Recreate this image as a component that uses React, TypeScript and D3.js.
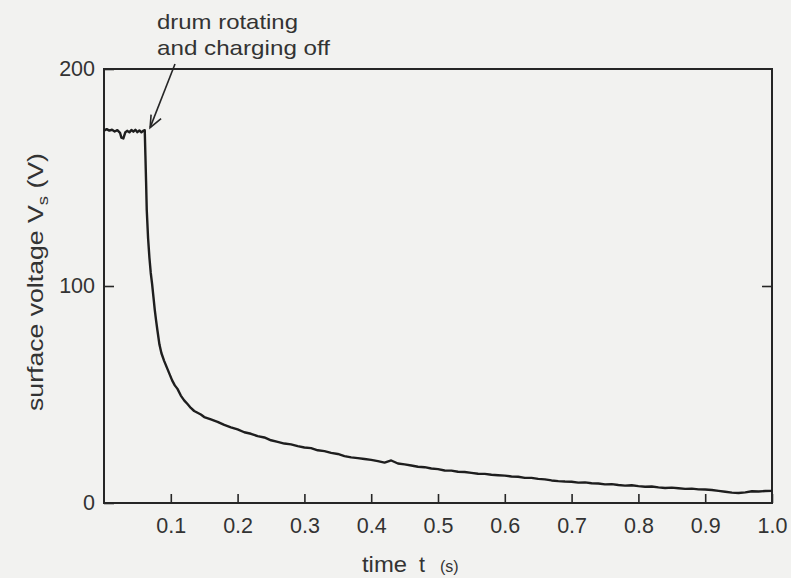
import React, { useEffect, useRef } from 'react';
import * as d3 from 'd3';

// trace (time in s, voltage in V)
const timeS = [
  0, 0.004, 0.008, 0.012, 0.016, 0.02, 0.024, 0.026, 0.029, 0.032, 0.035, 0.038, 0.041, 0.044, 0.047, 0.05,
  0.053, 0.056, 0.059, 0.061, 0.062, 0.063, 0.064, 0.066, 0.068, 0.07, 0.072, 0.074, 0.076, 0.078, 0.08,
  0.083, 0.086, 0.09, 0.094, 0.098, 0.102, 0.106, 0.11, 0.115, 0.12, 0.125, 0.13, 0.135, 0.14, 0.145, 0.15,
  0.16, 0.17, 0.18, 0.19, 0.2, 0.21, 0.22, 0.23, 0.24, 0.25, 0.26, 0.27, 0.28, 0.29, 0.3, 0.31, 0.32, 0.33,
  0.34, 0.35, 0.36, 0.37, 0.38, 0.39, 0.4, 0.41, 0.42, 0.43, 0.44, 0.45, 0.46, 0.47, 0.48, 0.49, 0.5, 0.51,
  0.52, 0.53, 0.54, 0.55, 0.56, 0.57, 0.58, 0.59, 0.6, 0.61, 0.62, 0.63, 0.64, 0.65, 0.66, 0.67, 0.68, 0.69,
  0.7, 0.71, 0.72, 0.73, 0.74, 0.75, 0.76, 0.77, 0.78, 0.79, 0.8, 0.81, 0.82, 0.83, 0.84, 0.85, 0.86, 0.87,
  0.88, 0.89, 0.9, 0.91, 0.92, 0.93, 0.94, 0.95, 0.96, 0.97, 0.98, 0.99, 1.0,
];
const voltageV = [
  171.5, 172.3, 171.6, 172.0, 171.2, 171.8, 170.6, 168.4, 168.0, 170.9, 171.5, 170.8, 171.9, 171.1, 172.0, 170.9,
  171.7, 170.8, 171.6, 171.8, 160, 148, 135, 122, 113, 106, 101, 95, 89, 84, 79.5,
  73, 69, 65.5, 62.5, 59.5, 56.5, 54.2, 52.6, 49.5, 47.3, 45.6, 43.8, 42.4, 41.6, 40.8, 39.6,
  38.5, 37.4, 36.0, 34.9, 33.9, 32.6, 31.9, 30.8, 30.2, 28.9, 28.2, 27.4, 27.0, 26.2, 25.6, 25.3, 24.3, 23.9,
  23.1, 22.6, 21.6, 21.0, 20.7, 20.3, 19.9, 19.3, 18.6, 19.6, 18.2, 17.8, 17.3, 16.7, 16.5, 15.9, 15.6, 15.0,
  14.9, 14.4, 14.3, 13.9, 13.5, 13.4, 13.0, 12.8, 12.6, 12.2, 12.1, 11.6, 11.6, 11.1, 10.9, 10.4, 10.1, 9.9,
  9.8, 9.4, 9.5, 9.1, 9.0, 8.6, 8.7, 8.3, 8.0, 8.2, 7.8, 7.5, 7.6, 7.2, 6.9, 7.1, 6.8, 6.5,
  6.6, 6.3, 6.2, 6.0, 5.6, 5.2, 4.8, 4.6, 4.9, 5.4, 5.3, 5.5, 5.6,
];
const xTicks = [0.1, 0.2, 0.3, 0.4, 0.5, 0.6, 0.7, 0.8, 0.9, 1.0];
const yTicks = [0, 100, 200];
const noteLines = ['drum rotating', 'and charging off'];

const W = 791;
const H = 578;
const ink = '#262626';
const font = '"Liberation Sans", Arial, sans-serif';

const App = () => {
  const ref = useRef<SVGSVGElement>(null);

  useEffect(() => {
    const svg = d3.select(ref.current);
    svg.selectAll('*').remove();

    const x = d3.scaleLinear().domain([0, 1]).range([104, 772]);
    const y = d3.scaleLinear().domain([0, 200]).range([503, 69]);

    svg.append('rect').attr('width', W).attr('height', H).attr('fill', '#f2f2f0');

    // bottom axis, ticks pointing in
    const gx = svg.append('g')
      .attr('transform', 'translate(0,503)')
      .call(d3.axisBottom(x).tickValues(xTicks).tickFormat(d3.format('.1f')).tickSizeInner(-9).tickSizeOuter(0).tickPadding(15));
    gx.select('.domain').remove();
    gx.selectAll('line').attr('stroke', ink).attr('stroke-width', 1.6);
    gx.selectAll('text').attr('fill', '#333').style('font-size', '21.5px').style('font-family', font);

    // left axis
    const gy = svg.append('g')
      .attr('transform', 'translate(104,0)')
      .call(d3.axisLeft(y).tickValues(yTicks).tickSizeInner(-10).tickSizeOuter(0).tickPadding(9));
    gy.select('.domain').remove();
    gy.selectAll('line').attr('stroke', ink).attr('stroke-width', 1.6);
    gy.selectAll('text').attr('fill', '#333').style('font-size', '21.5px').style('font-family', font);

    // right axis, tick only at 100
    const gr = svg.append('g')
      .attr('transform', 'translate(772,0)')
      .call(d3.axisRight(y).tickValues([100]).tickSizeInner(-10).tickSizeOuter(0).tickFormat(() => ''));
    gr.select('.domain').remove();
    gr.selectAll('line').attr('stroke', ink).attr('stroke-width', 1.6);

    // frame
    svg.append('rect')
      .attr('x', x(0)).attr('y', y(200))
      .attr('width', x(1) - x(0)).attr('height', y(0) - y(200))
      .attr('fill', 'none').attr('stroke', ink).attr('stroke-width', 2);

    // trace
    const line = d3.line<number>()
      .x((d, i) => x(timeS[i]))
      .y(d => y(d));
    svg.append('path')
      .datum(voltageV)
      .attr('fill', 'none')
      .attr('stroke', '#1e1e1e')
      .attr('stroke-width', 2.4)
      .attr('stroke-linejoin', 'round')
      .attr('d', line);

    // annotation
    const note = svg.append('text')
      .attr('fill', '#333').style('font-size', '21px').style('font-family', font);
    note.append('tspan').attr('x', 157).attr('y', 29).attr('textLength', 141).attr('lengthAdjust', 'spacingAndGlyphs').text(noteLines[0]);
    note.append('tspan').attr('x', 157).attr('y', 55).attr('textLength', 173).attr('lengthAdjust', 'spacingAndGlyphs').text(noteLines[1]);

    // arrow
    const tipX = x(0.069);
    const tipY = y(173);
    svg.append('line')
      .attr('x1', 175).attr('y1', 64).attr('x2', tipX).attr('y2', tipY)
      .attr('stroke', ink).attr('stroke-width', 1.6);
    svg.append('path')
      .attr('d', `M${tipX + 1},${tipY - 13} L${tipX},${tipY} L${tipX + 11},${tipY - 9}`)
      .attr('fill', 'none').attr('stroke', ink).attr('stroke-width', 1.6);

    // axis titles
    const yl = svg.append('text')
      .attr('transform', 'translate(43,282) rotate(-90)')
      .attr('text-anchor', 'middle')
      .attr('fill', '#333').style('font-size', '21.5px').style('font-family', font)
      .attr('textLength', 258).attr('lengthAdjust', 'spacingAndGlyphs');
    yl.append('tspan').text('surface voltage V');
    yl.append('tspan').attr('dy', 5).style('font-size', '15px').text('s');
    yl.append('tspan').attr('dy', -5).text(' (V)');

    svg.append('text').attr('x', 362).attr('y', 572)
      .attr('fill', '#333').style('font-size', '21.5px').style('font-family', font)
      .attr('textLength', 45).attr('lengthAdjust', 'spacingAndGlyphs').text('time');
    svg.append('text').attr('x', 419).attr('y', 572)
      .attr('fill', '#333').style('font-size', '21.5px').style('font-family', font).text('t');
    svg.append('text').attr('x', 440).attr('y', 572)
      .attr('fill', '#333').style('font-size', '16px').style('font-family', font).text('(s)');
  }, []);

  return (
    <svg ref={ref} width={W} height={H} style={{ position: 'absolute', left: 0, top: 0, display: 'block' }} />
  );
};

export default App;
